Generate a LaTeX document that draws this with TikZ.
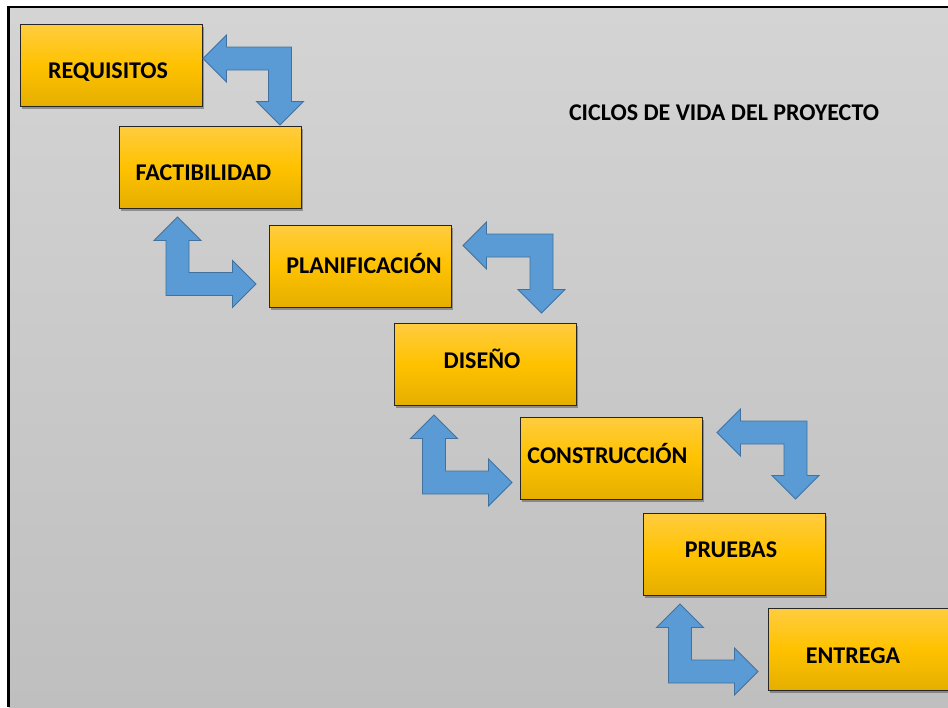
\documentclass[tikz,border=0pt]{standalone}
\usepackage{fontspec}
\setmainfont{Carlito}
\usetikzlibrary{calc,shadows}
\definecolor{bgtop}{HTML}{D4D4D4}
\definecolor{bgbot}{HTML}{BFBFBF}
\definecolor{boxtop}{HTML}{FFCC40}
\definecolor{boxmid}{HTML}{FFC200}
\definecolor{boxbot}{HTML}{E5AF00}
\definecolor{arrfill}{HTML}{5B9BD5}
\definecolor{arrline}{HTML}{41719C}
\tikzset{
  stage/.style={draw=black!85, line width=0.9pt, minimum width=182pt, minimum height=82pt,
    inner sep=0pt, top color=boxtop, bottom color=boxbot, middle color=boxmid,
    font=\fontsize{24}{28}\selectfont\bfseries, text depth=5pt, text height=20.2pt,
    drop shadow={shadow xshift=1.5pt, shadow yshift=-3pt, opacity=0.3, fill=black}},
  titletext/.style={font=\fontsize{24}{28}\selectfont\bfseries, inner sep=0pt,
    text height=15.2pt, text depth=0pt},
  bluearrow/.style={fill=arrfill, draw=arrline, line width=0.9pt, line join=miter},
  frameline/.style={line width=2.5pt, line join=miter, draw=black}
}
% left-pointing tip #1 bending down to tip #2
\newcommand\leftdownarrow[2]{%
  \path[bluearrow] let \p1=(#1), \p2=(#2) in
    (\x1,\y1) -- (\x1+23.5pt,\y1+23.5pt) -- (\x1+23.5pt,\y1+11.5pt)
    -- (\x2+11.5pt,\y1+11.5pt) -- (\x2+11.5pt,\y2+23.5pt) -- (\x2+23.5pt,\y2+23.5pt)
    -- (\x2,\y2) -- (\x2-23.5pt,\y2+23.5pt) -- (\x2-11.5pt,\y2+23.5pt)
    -- (\x2-11.5pt,\y1-11.5pt) -- (\x1+23.5pt,\y1-11.5pt) -- (\x1+23.5pt,\y1-23.5pt) -- cycle;}
% up-pointing tip #1 bending right to tip #2
\newcommand\uprightarrow[2]{%
  \path[bluearrow] let \p1=(#1), \p2=(#2) in
    (\x1,\y1) -- (\x1+23.5pt,\y1-23.5pt) -- (\x1+11.5pt,\y1-23.5pt)
    -- (\x1+11.5pt,\y2+11.5pt) -- (\x2-23.5pt,\y2+11.5pt) -- (\x2-23.5pt,\y2+23.5pt)
    -- (\x2,\y2) -- (\x2-23.5pt,\y2-23.5pt) -- (\x2-23.5pt,\y2-11.5pt)
    -- (\x1-11.5pt,\y2-11.5pt) -- (\x1-11.5pt,\y1-23.5pt) -- (\x1-23.5pt,\y1-23.5pt) -- cycle;}
\begin{document}
\begin{tikzpicture}[x=1pt,y=-1pt]
\useasboundingbox (0,0) rectangle (948,707);
\fill[white] (0,0) rectangle (948,707);
\fill[top color=bgtop, bottom color=bgbot] (8.7,7) rectangle (948,707);
\draw[frameline] (8.7,707) -- (8.7,7) -- (948,7);

% stages
\node[stage, text height=31.2pt] (req)  at (111,65)   {REQUISITOS\hspace*{6pt}};
\node[stage, text height=31.2pt] (fact) at (210,167)  {FACTIBILIDAD\hspace*{13pt}};
\node[stage] (plan) at (360.5,266) {\hspace*{7pt}PLANIFICACIÓN};
\node[stage, text height=13.2pt] (dis)  at (485.5,364) {DISEÑO\hspace*{7pt}};
\node[stage, text height=16.2pt] (cons) at (611.5,458) {CONSTRUCCIÓN\hspace*{8pt}};
\node[stage, text height=12.2pt] (pru)  at (734.5,554) {PRUEBAS\hspace*{7pt}};
\node[stage, text height=33.2pt] (ent)  at (859,649)   {ENTREGA\hspace*{12pt}};

\node[titletext] (title) at (724,112.5) {CICLOS DE VIDA DEL PROYECTO};

% arrow end points
\coordinate (a1) at (203,58.5);   \coordinate (d1) at (280,125);
\coordinate (a2) at (463,245.5);  \coordinate (d2) at (541.5,313);
\coordinate (a3) at (717,432.5);  \coordinate (d3) at (795.5,499);
\coordinate (u1) at (177.5,217);  \coordinate (r1) at (256,284);
\coordinate (u2) at (434,415);    \coordinate (r2) at (512,482.5);
\coordinate (u3) at (680,604);    \coordinate (r3) at (758,671.5);

\leftdownarrow{a1}{d1}
\leftdownarrow{a2}{d2}
\leftdownarrow{a3}{d3}
\uprightarrow{u1}{r1}
\uprightarrow{u2}{r2}
\uprightarrow{u3}{r3}
\end{tikzpicture}
\end{document}
